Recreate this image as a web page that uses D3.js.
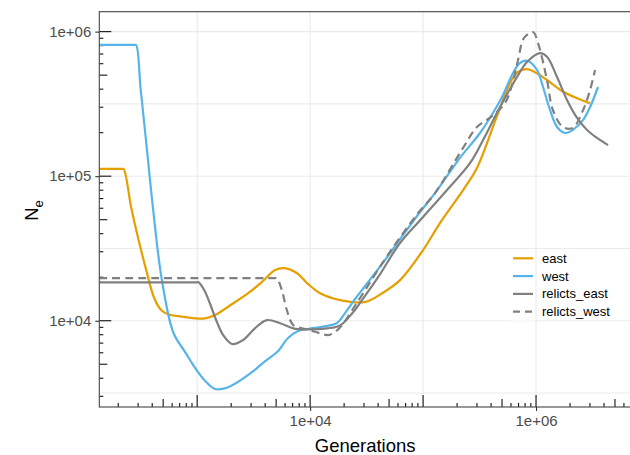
<!DOCTYPE html>
<html><head><meta charset="utf-8">
<script src="https://cdn.jsdelivr.net/npm/d3@7"></script>
<style>body{margin:0;background:#fff}svg{display:block;font-family:"Liberation Sans",Arial,Helvetica,sans-serif}</style>
</head><body><svg id="c" width="630" height="455"></svg>
<script>
// ---- data: [generations, Ne] ----
const east = [[136,1.122e5],[215,1.122e5],[223,1.122e5],[261,6.03e4],[300,3.73e4],[354,2.24e4],[416,1.436e4],[480,1.186e4],[553,1.107e4],[736,1.066e4],[960,1.039e4],[1178,1.039e4],[1443,1.095e4],[1879,1.25e4],[2830,1.55e4],[3760,1.86e4],[4900,2.24e4],[5890,2.31e4],[7670,2.13e4],[9400,1.82e4],[12250,1.55e4],[18400,1.39e4],[30700,1.35e4],[43400,1.55e4],[62500,1.91e4],[1.0e5,3.08e4],[1.41e5,4.74e4],[2.26e5,8.02e4],[3.0e5,1.14e5],[4.49e5,2.58e5],[5.89e5,4.42e5],[6.93e5,5.26e5],[8.32e5,5.5e5],[1.02e6,5.15e5],[1.25e6,4.63e5],[1.73e6,3.85e5],[2.31e6,3.46e5],[3.01e6,3.19e5]];
const west = [[136,8.09e5],[277,8.09e5],[288,8.09e5],[316,4.01e5],[361,1.47e5],[408,5.83e4],[487,1.91e4],[617,8.22e3],[783,6.07e3],[960,4.71e3],[1178,3.83e3],[1443,3.37e3],[1879,3.47e3],[3069,4.42e3],[4000,5.26e3],[5100,6.07e3],[6380,7.59e3],[7830,8.49e3],[10000,8.83e3],[12250,9.04e3],[17300,9.64e3],[20400,1.13e4],[25000,1.413e4],[30700,1.74e4],[43400,2.47e4],[60100,3.51e4],[94000,5.65e4],[1.28e5,7.66e4],[2.12e5,1.34e5],[3.19e5,1.99e5],[4.52e5,3.06e5],[5.1e5,3.65e5],[6.26e5,5.18e5],[7.21e5,6.07e5],[8.49e5,6.27e5],[1.02e6,5.43e5],[1.153e6,4.14e5],[1.33e6,2.87e5],[1.535e6,2.19e5],[1.81e6,1.99e5],[2.12e6,2.09e5],[2.61e6,2.45e5],[3.01e6,3.01e5],[3.54e6,4.14e5]];
const relicts_east = [[136,1.845e4],[990,1.845e4],[1028,1.845e4],[1153,1.63e4],[1303,1.305e4],[1472,1.011e4],[1698,7.96e3],[2040,6.9e3],[2550,7.35e3],[3260,8.9e3],[4140,1.01e4],[5430,9.6e3],[7080,8.86e3],[9400,8.72e3],[14100,8.86e3],[18400,9.27e3],[23600,1.125e4],[28800,1.39e4],[40000,2.0e4],[62500,3.45e4],[1e5,5.22e4],[1.63e5,8.02e4],[2.6e5,1.23e5],[3.4e5,1.78e5],[4.8e5,3.01e5],[6.79e5,4.86e5],[8.32e5,6.17e5],[1.084e6,7.1e5],[1.25e6,6.71e5],[1.535e6,4.86e5],[1.88e6,3.37e5],[2.31e6,2.53e5],[2.83e6,2.09e5],[3.47e6,1.84e5],[4.34e6,1.64e5]];
const relicts_west = [[136,1.97e4],[4900,1.97e4],[5070,1.97e4],[5620,1.63e4],[6220,1.186e4],[7080,9.34e3],[8490,8.86e3],[11070,8.39e3],[14400,7.96e3],[16600,8.36e3],[19200,9.34e3],[23600,1.186e4],[30700,1.63e4],[43400,2.49e4],[60100,3.61e4],[90400,5.56e4],[1.28e5,7.66e4],[2.26e5,1.57e5],[3.0e5,2.19e5],[4.0e5,2.57e5],[5.32e5,3.21e5],[6.14e5,4.28e5],[6.93e5,6.37e5],[7.83e5,9.04e5],[9.4e5,9.95e5],[1.04e6,8.36e5],[1.25e6,4.63e5],[1.41e6,2.87e5],[1.73e6,2.19e5],[2.12e6,2.16e5],[2.61e6,2.87e5],[3.01e6,3.95e5],[3.33e6,5.43e5]];
const seriesNames = ["east","west","relicts_east","relicts_west"];
const xTicks = [1e4, 1e6];
const xTickLabels = ["1e+04","1e+06"];
const yTicks = [1e4, 1e5, 1e6];
const yTickLabels = ["1e+04","1e+05","1e+06"];
const xMinor = [1e3, 1e5];
const yMinor = [Math.pow(10,3.5), Math.pow(10,4.5), Math.pow(10,5.5)];
const xLabel = "Generations";

// ---- layout ----
const svg = d3.select("#c");
const L = 99.3, R = 631, T = 11.7, B = 407;
const x = d3.scaleLog().domain([136, 6.93e6]).range([L, R]);
const y = d3.scaleLog().domain([2530, 1.374e6]).range([B, T]);
const series = [
  {name:"east", data:east, color:"#E69F00", dash:null},
  {name:"west", data:west, color:"#56B4E9", dash:null},
  {name:"relicts_east", data:relicts_east, color:"#808080", dash:null},
  {name:"relicts_west", data:relicts_west, color:"#808080", dash:"8,5"}
];

const grid = svg.append("g").attr("stroke","#ebebeb").attr("stroke-width",1.1);
[...xTicks, ...xMinor].forEach(v => grid.append("line").attr("x1",x(v)).attr("x2",x(v)).attr("y1",T).attr("y2",B));
[...yTicks, ...yMinor].forEach(v => grid.append("line").attr("x1",L).attr("x2",R).attr("y1",y(v)).attr("y2",y(v)));

// log ticks
const lt = svg.append("g").attr("stroke","#111").attr("stroke-width",1.1);
for (let k = 2; k <= 6; k++) for (let m = 1; m <= 9; m++) {
  const v = m * Math.pow(10, k);
  const len = m === 1 ? 12 : (m === 5 ? 8 : 4);
  if (v >= x.domain()[0] && v <= x.domain()[1]) lt.append("line").attr("x1",x(v)).attr("x2",x(v)).attr("y1",B).attr("y2",B-len);
  if (v >= y.domain()[0] && v <= y.domain()[1]) lt.append("line").attr("y1",y(v)).attr("y2",y(v)).attr("x1",L).attr("x2",L+len);
}

// lines
const line = d3.line().x(d => x(d[0])).y(d => y(d[1])).curve(d3.curveCatmullRom.alpha(0.5));
svg.append("clipPath").attr("id","clp").append("rect").attr("x",L).attr("y",T).attr("width",R-L).attr("height",B-T);
series.forEach(s => {
  svg.append("path").attr("d", line(s.data)).attr("fill","none").attr("stroke",s.color)
    .attr("stroke-width",2.2).attr("stroke-dasharray",s.dash).attr("clip-path","url(#clp)");
});

// border
svg.append("rect").attr("x",L).attr("y",T).attr("width",R-L).attr("height",B-T).attr("fill","none").attr("stroke","#444").attr("stroke-width",1.1);

// axes
const xa = svg.append("g").attr("transform",`translate(0,${B})`)
  .call(d3.axisBottom(x).tickValues(xTicks).tickFormat((d,i)=>xTickLabels[i]).tickSize(4).tickPadding(4));
const ya = svg.append("g").attr("transform",`translate(${L},0)`)
  .call(d3.axisLeft(y).tickValues(yTicks).tickFormat((d,i)=>yTickLabels[i]).tickSize(4).tickPadding(4));
[xa, ya].forEach(a => {
  a.select(".domain").remove();
  a.selectAll(".tick line").attr("stroke","#333").attr("stroke-width",1.1);
  a.selectAll(".tick text").attr("fill","#4d4d4d").style("font-size","15px").style("font-family","'Liberation Sans',Arial,sans-serif");
});

svg.append("text").attr("x",(L+R)/2).attr("y",452).attr("text-anchor","middle").style("font-size","18.5px").attr("fill","#000").text(xLabel);
const yl = svg.append("text").attr("transform","translate(38,210.5) rotate(-90)").attr("text-anchor","middle").style("font-size","18.5px").attr("fill","#000");
yl.append("tspan").text("N");
yl.append("tspan").attr("dy",5).style("font-size","13px").text("e");

// legend
const lg = svg.append("g");
series.forEach((s,i) => {
  const cy = 258.3 + i*17.8;
  lg.append("rect").attr("x",510).attr("y",cy-8.9).attr("width",25).attr("height",17.8).attr("fill","#fff");
  lg.append("line").attr("x1",513).attr("x2",533).attr("y1",cy).attr("y2",cy).attr("stroke",s.color).attr("stroke-width",2.2).attr("stroke-dasharray",s.dash ? "7,5" : null);
  lg.append("text").attr("x",542).attr("y",cy).attr("dy","0.35em").style("font-size","13px").attr("fill","#000").text(seriesNames[i]);
});
</script></body></html>
